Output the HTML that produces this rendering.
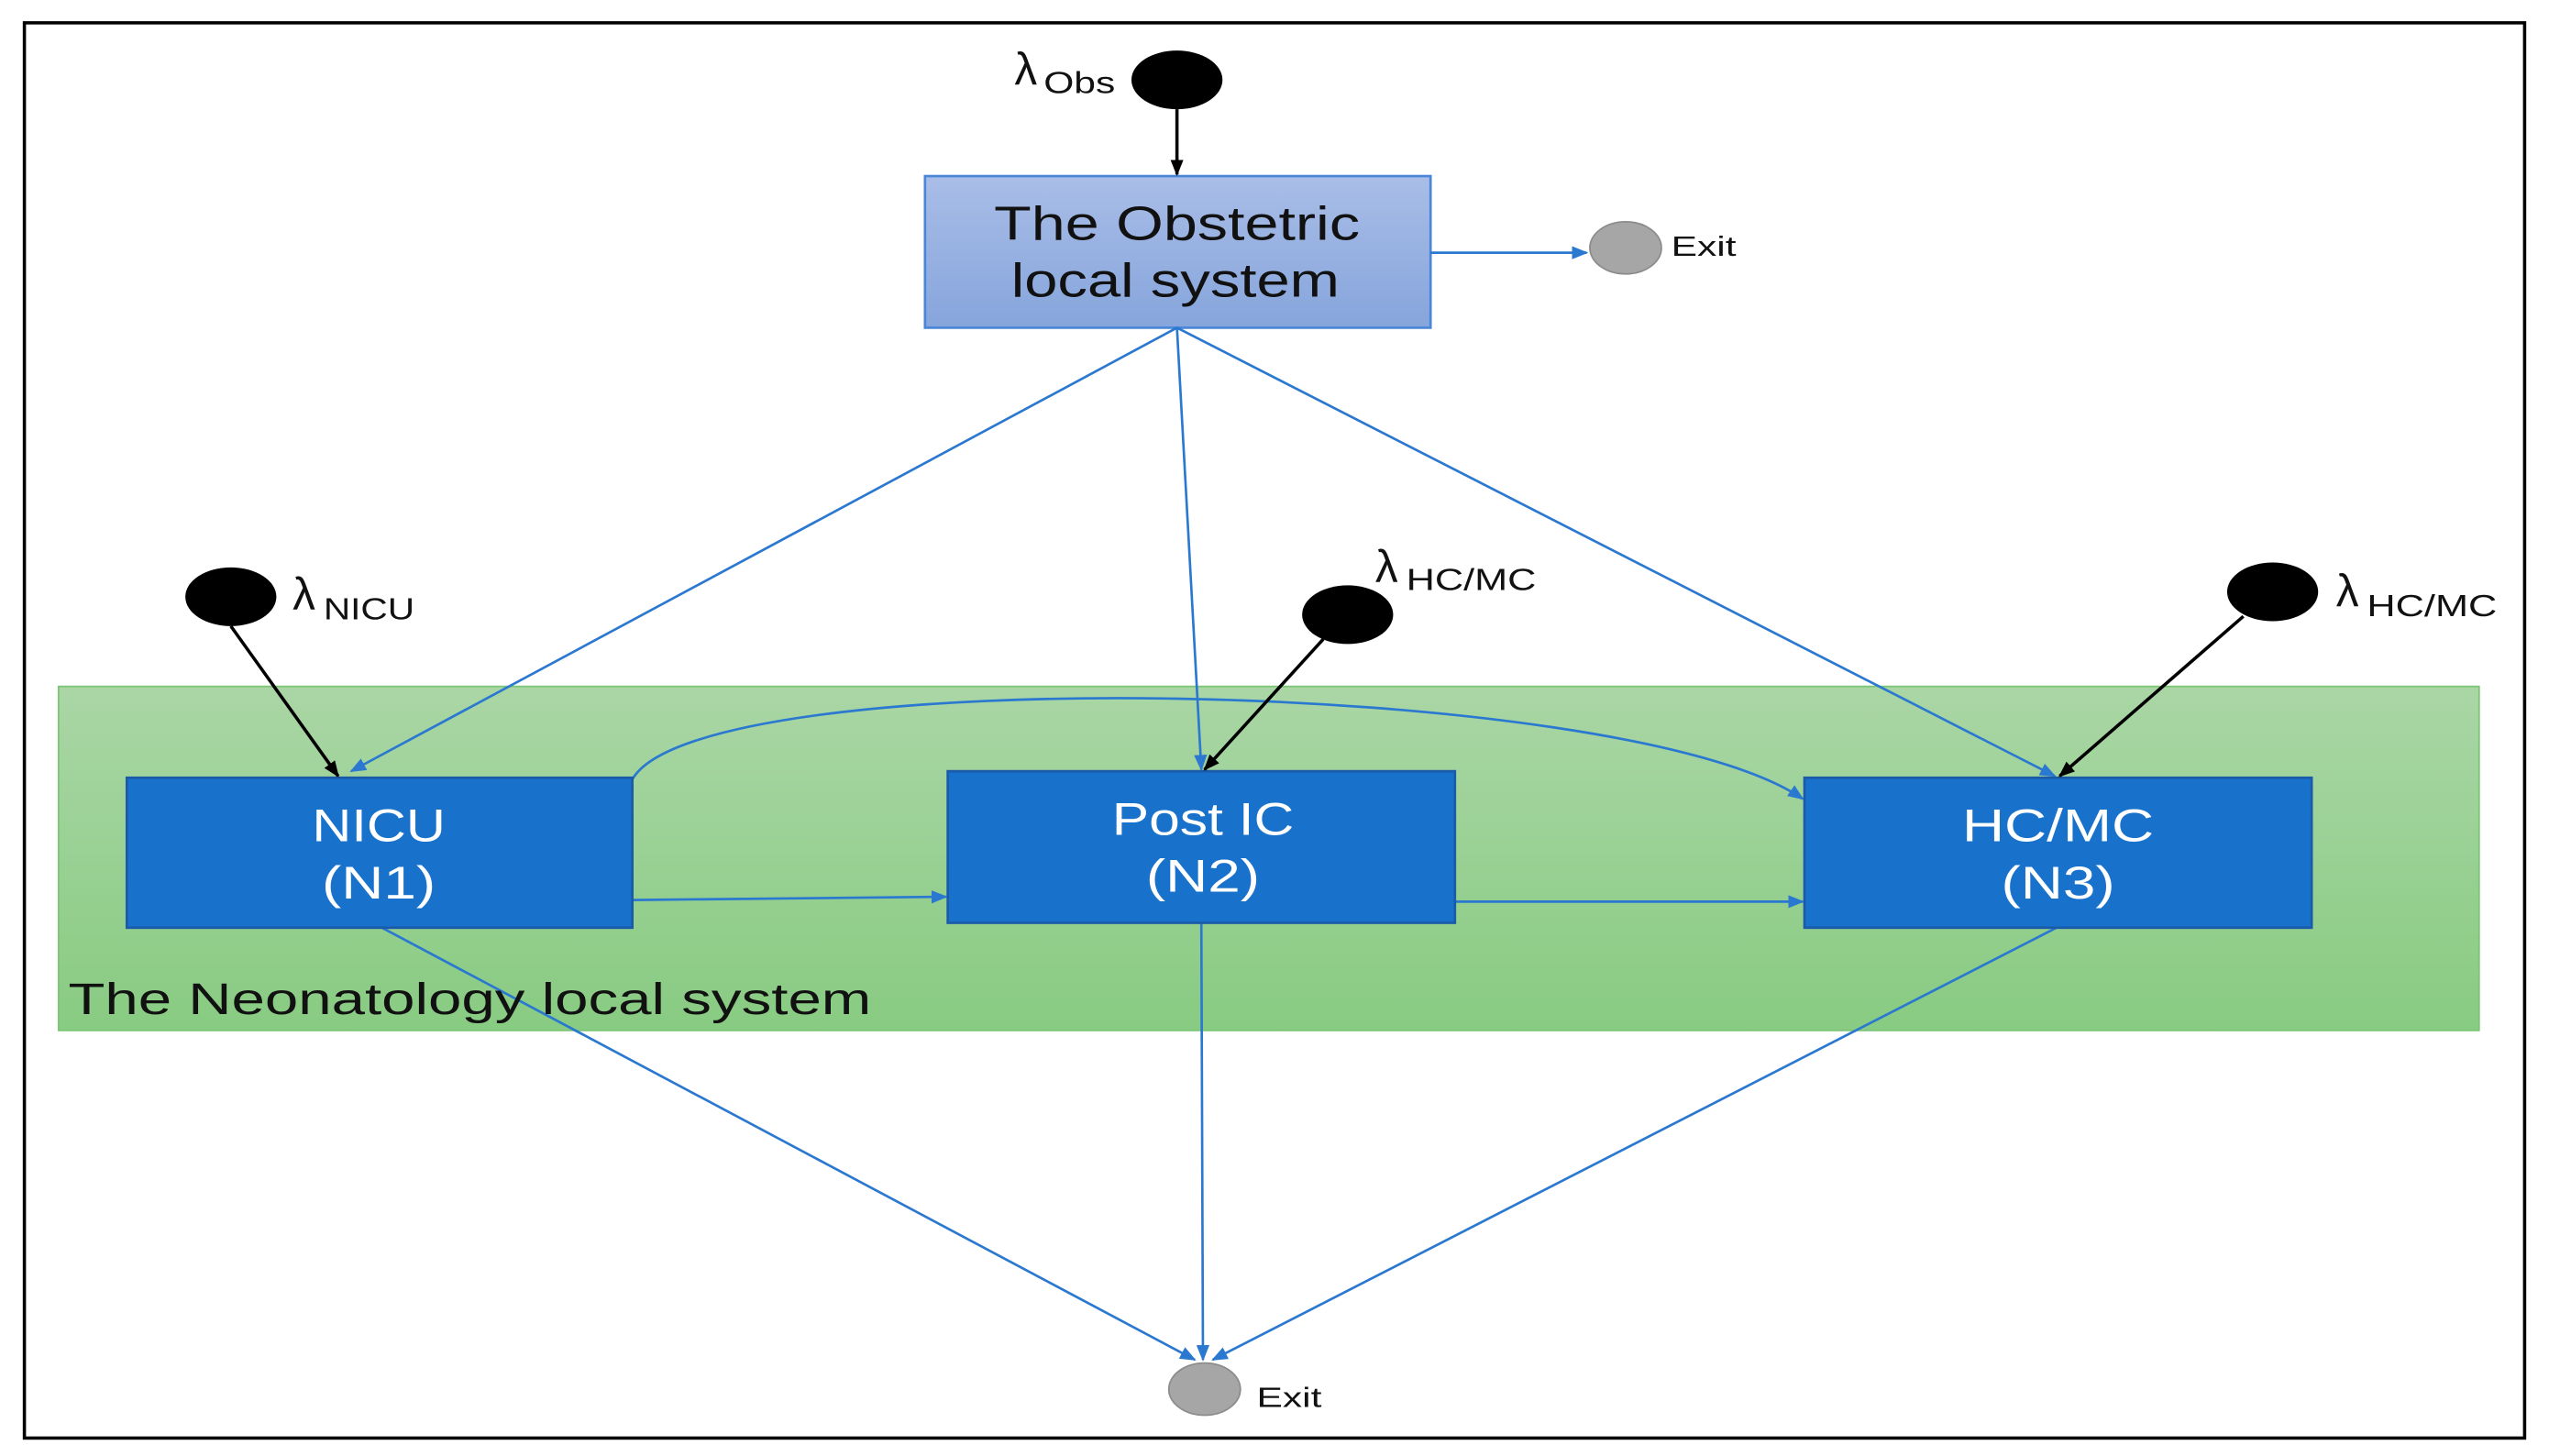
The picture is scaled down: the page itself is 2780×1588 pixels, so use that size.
<!DOCTYPE html>
<html><head><meta charset="utf-8"><style>html,body{margin:0;padding:0;background:#fff}svg{display:block}</style></head>
<body>
<svg width="2780" height="1588" viewBox="0 0 1568 893" preserveAspectRatio="none" xmlns="http://www.w3.org/2000/svg" font-family="Liberation Sans, sans-serif">
<defs>
<linearGradient id="gb" x1="0" y1="0" x2="0" y2="1"><stop offset="0" stop-color="#a9bde7"/><stop offset="1" stop-color="#86a5dc"/></linearGradient>
<linearGradient id="gg" x1="0" y1="0" x2="0" y2="1"><stop offset="0" stop-color="#aad6a5"/><stop offset="1" stop-color="#88cb82"/></linearGradient>
<marker id="ab" markerWidth="10" markerHeight="10" refX="9" refY="5" orient="auto" markerUnits="userSpaceOnUse"><path d="M0,1 L10,5 L0,9 z" fill="#000"/></marker>
<marker id="au" markerWidth="10" markerHeight="10" refX="9" refY="5" orient="auto" markerUnits="userSpaceOnUse"><path d="M0,1 L10,5 L0,9 z" fill="#2a78d0"/></marker>
</defs>
<rect x="15" y="14" width="1538" height="868" fill="#fff" stroke="#000" stroke-width="2"/>
<rect x="36" y="421" width="1489" height="211" fill="url(#gg)" stroke="#7cc576" stroke-width="1"/>
<rect x="569" y="108" width="311" height="93" fill="url(#gb)" stroke="#4a86d8" stroke-width="1.5"/>
<text x="724" y="147" font-size="29" text-anchor="middle" textLength="225" lengthAdjust="spacingAndGlyphs" fill="#111">The Obstetric</text>
<text x="723" y="182" font-size="29" text-anchor="middle" textLength="202" lengthAdjust="spacingAndGlyphs" fill="#111">local system</text>
<g stroke="#2a78d0" stroke-width="1.5" fill="none" marker-end="url(#au)">
<line x1="880" y1="155" x2="976" y2="155"/>
<line x1="724" y1="201" x2="216" y2="473"/>
<line x1="724" y1="201" x2="739" y2="472"/>
<line x1="724" y1="201" x2="1264" y2="476"/>
<path d="M389,478 C430,405 1000,415 1109,490"/>
<line x1="389" y1="552" x2="582" y2="550"/>
<line x1="895" y1="553" x2="1109" y2="553"/>
<line x1="235" y1="569" x2="735" y2="834"/>
<line x1="739" y1="566" x2="740" y2="834"/>
<line x1="1265" y1="569" x2="746" y2="834"/>
</g>
<rect x="78" y="477" width="311" height="92" fill="#1872cc" stroke="#1a5aa8" stroke-width="1.5"/>
<rect x="583" y="473" width="312" height="93" fill="#1872cc" stroke="#1a5aa8" stroke-width="1.5"/>
<rect x="1110" y="477" width="312" height="92" fill="#1872cc" stroke="#1a5aa8" stroke-width="1.5"/>
<g fill="#fff" font-size="28" text-anchor="middle">
<text x="233" y="516" textLength="82" lengthAdjust="spacingAndGlyphs">NICU</text><text x="233" y="551" textLength="70" lengthAdjust="spacingAndGlyphs">(N1)</text>
<text x="740" y="512" textLength="112" lengthAdjust="spacingAndGlyphs">Post IC</text><text x="740" y="547" textLength="70" lengthAdjust="spacingAndGlyphs">(N2)</text>
<text x="1266" y="516" textLength="118" lengthAdjust="spacingAndGlyphs">HC/MC</text><text x="1266" y="551" textLength="70" lengthAdjust="spacingAndGlyphs">(N3)</text>
</g>
<text x="42" y="622" font-size="27" textLength="494" lengthAdjust="spacingAndGlyphs" fill="#111">The Neonatology local system</text>
<g fill="#000">
<ellipse cx="724" cy="49" rx="28" ry="18"/>
<ellipse cx="142" cy="366" rx="28" ry="18"/>
<ellipse cx="829" cy="377" rx="28" ry="18"/>
<ellipse cx="1398" cy="363" rx="28" ry="18"/>
</g>
<g stroke="#000" stroke-width="2" marker-end="url(#ab)">
<line x1="724" y1="67" x2="724" y2="107"/>
<line x1="142" y1="384" x2="208" y2="476"/>
<line x1="814" y1="392" x2="741" y2="472"/>
<line x1="1380" y1="378" x2="1267" y2="476"/>
</g>
<g fill="#111">
<text x="624" y="52" font-size="28">λ</text><text x="642" y="57" font-size="19" textLength="44" lengthAdjust="spacingAndGlyphs">Obs</text>
<text x="180" y="374" font-size="28">λ</text><text x="199" y="380" font-size="19" textLength="56" lengthAdjust="spacingAndGlyphs">NICU</text>
<text x="846" y="357" font-size="28">λ</text><text x="865" y="362" font-size="19" textLength="80" lengthAdjust="spacingAndGlyphs">HC/MC</text>
<text x="1437" y="372" font-size="28">λ</text><text x="1456" y="378" font-size="19" textLength="80" lengthAdjust="spacingAndGlyphs">HC/MC</text>
</g>
<ellipse cx="1000" cy="152" rx="22" ry="16" fill="#a6a6a6" stroke="#8c8c8c"/>
<text x="1028" y="157" font-size="17" fill="#111" textLength="40" lengthAdjust="spacingAndGlyphs">Exit</text>
<ellipse cx="741" cy="852" rx="22" ry="16" fill="#a6a6a6" stroke="#8c8c8c"/>
<text x="773" y="863" font-size="17" fill="#111" textLength="40" lengthAdjust="spacingAndGlyphs">Exit</text>
</svg>
</body></html>
